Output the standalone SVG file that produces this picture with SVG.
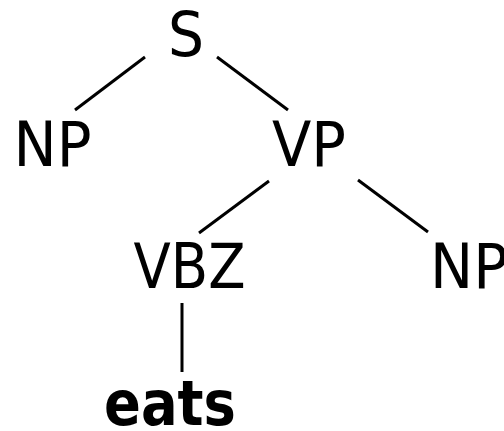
<svg xmlns="http://www.w3.org/2000/svg" width="504" height="431" viewBox="0 0 504 431">
<style>
.lbl{font-family:"DejaVu Sans",Verdana,sans-serif;font-size:62px;fill:#000;text-anchor:middle}
.b{font-weight:bold}
.edge{stroke:#000;stroke-width:3;fill:none}
</style>
<rect width="504" height="431" fill="#fff"/>
<g id="connectors">
<line class="edge" x1="145" y1="57" x2="75" y2="110"/>
<line class="edge" x1="217" y1="57" x2="288" y2="110"/>
<line class="edge" x1="269" y1="181" x2="199" y2="233"/>
<line class="edge" x1="358" y1="180" x2="428" y2="232"/>
<line class="edge" x1="182" y1="303" x2="182" y2="372"/>
</g>
<g id="S"><text class="lbl" x="186" y="56" textLength="36" lengthAdjust="spacingAndGlyphs">S</text></g>
<g id="NP1"><text class="lbl" x="52.5" y="166" textLength="78" lengthAdjust="spacingAndGlyphs">NP</text></g>
<g id="VP"><text class="lbl" x="309" y="166" textLength="74" lengthAdjust="spacingAndGlyphs">VP</text></g>
<g id="VBZ"><text class="lbl" x="189.5" y="288" textLength="112" lengthAdjust="spacingAndGlyphs">VBZ</text></g>
<g id="NP2"><text class="lbl" x="469" y="288" textLength="78" lengthAdjust="spacingAndGlyphs">NP</text></g>
<g id="eats"><text class="lbl b" x="170" y="425" textLength="132" lengthAdjust="spacingAndGlyphs">eats</text></g>
</svg>
